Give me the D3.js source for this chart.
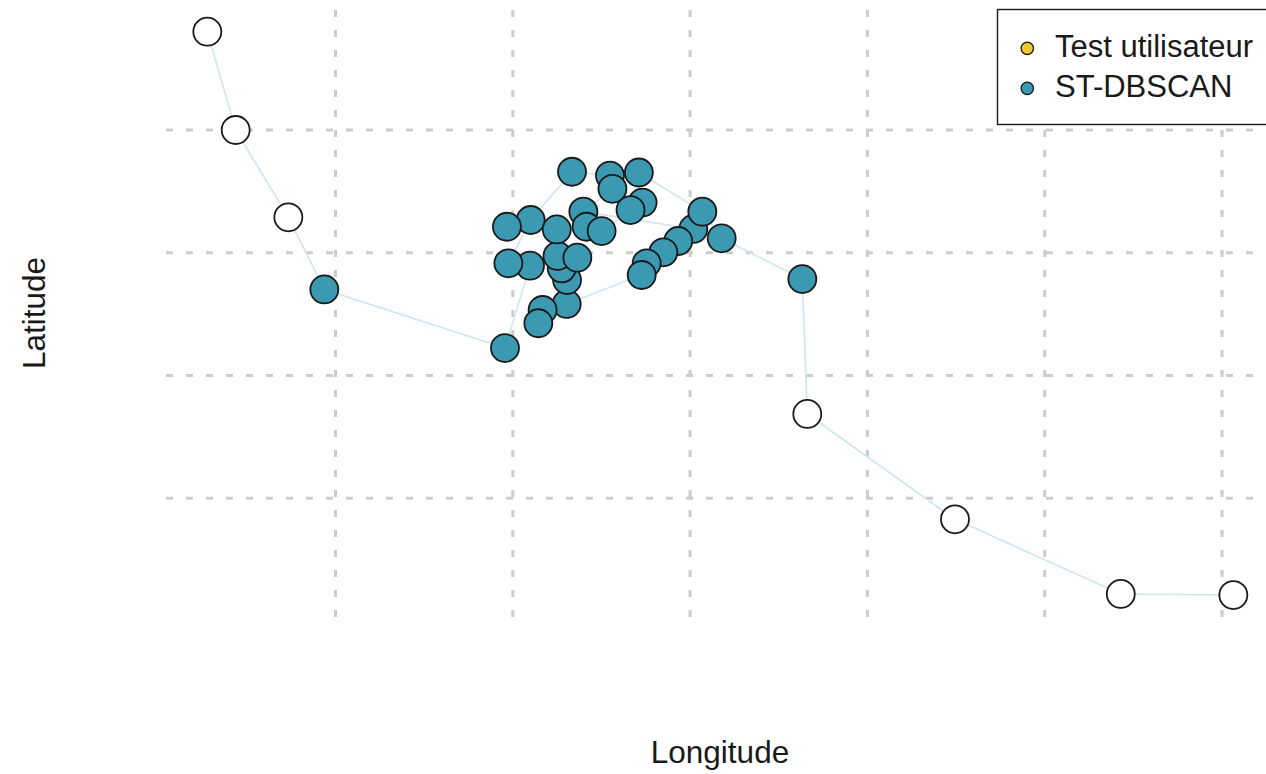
<!DOCTYPE html>
<html>
<head>
<meta charset="utf-8">
<script src="https://cdn.jsdelivr.net/npm/d3@7"></script>
<style>
  html, body { margin: 0; padding: 0; background: #ffffff; }
  svg { display: block; }
</style>
</head>
<body>
<svg id="chart" width="1266" height="774"></svg>
<script>
// ---- Data (trajectory in visiting order) ----
const longitudes = [
  2.350277, 2.350437, 2.350734, 2.350937, 2.351956, 2.352097, 2.351975, 2.352101,
  2.352334, 2.352548, 2.352562, 2.352398, 2.353018, 2.352933, 2.352849, 2.352755,
  2.352727, 2.352304, 2.352168, 2.352144, 2.352306, 2.352276, 2.352252, 2.352364,
  2.352248, 2.351967, 2.352416, 2.352501, 2.352732, 2.352664, 2.352711, 2.353069,
  2.353178, 2.353633, 2.353661, 2.354494, 2.355429, 2.356064
];
const latitudes = [
  48.860801, 48.860000, 48.859289, 48.858701, 48.858224, 48.858895, 48.858914, 48.859267,
  48.859660, 48.859629, 48.859521, 48.859335, 48.859194, 48.859096, 48.859004, 48.858914,
  48.858819, 48.858583, 48.858534, 48.858426, 48.858778, 48.858873, 48.858974, 48.858960,
  48.859190, 48.859212, 48.859212, 48.859177, 48.859409, 48.859348, 48.859654, 48.859335,
  48.859118, 48.858786, 48.857687, 48.856829, 48.856221, 48.856212
];
// 0 = hors cluster (bruit), 1 = cluster ST-DBSCAN
const clusters = [
  0, 0, 0, 1, 1, 1, 1, 1, 1, 1, 1, 1, 1, 1, 1, 1, 1, 1, 1, 1,
  1, 1, 1, 1, 1, 1, 1, 1, 1, 1, 1, 1, 1, 1, 0, 0, 0, 0
];
const lonGrid = [2.351, 2.352, 2.353, 2.354, 2.355, 2.356];
const latGrid = [48.857, 48.858, 48.859, 48.860];
const legendLabels = ["Test utilisateur", "ST-DBSCAN"];
const legendColors = ["#EBCC2A", "#3B9AB2"];
const xTitle = "Longitude";
const yTitle = "Latitude";

// ---- Layout ----
const panel = { left: 166, right: 1274, top: 10, bottom: 617 };
const svg = d3.select("#chart");
const fontFamily = "'Liberation Sans', Arial, sans-serif";

const x = d3.scaleLinear().domain([2.351, 2.356]).range([335.5, 1222]);
const y = d3.scaleLinear().domain([48.857, 48.860]).range([498.3, 130]);

const points = longitudes.map((lon, i) => ({ lon, lat: latitudes[i], c: clusters[i] }));

// ---- Grid ----
const grid = svg.append("g")
  .attr("stroke", "#cccccc")
  .attr("stroke-width", 3)
  .attr("stroke-dasharray", "7 13")
  .attr("fill", "none");

grid.selectAll("line.h").data(latGrid).join("line")
  .attr("class", "h")
  .attr("x1", panel.left).attr("x2", panel.right)
  .attr("y1", d => y(d)).attr("y2", d => y(d));

grid.selectAll("line.v").data(lonGrid).join("line")
  .attr("class", "v")
  .attr("x1", d => x(d)).attr("x2", d => x(d))
  .attr("y1", panel.top).attr("y2", panel.bottom);

// ---- Trajectory path ----
const line = d3.line().x(d => x(d.lon)).y(d => y(d.lat));
svg.append("path")
  .datum(points)
  .attr("d", line)
  .attr("fill", "none")
  .attr("stroke", "#cde6ef")
  .attr("stroke-width", 1.6);

// ---- Points ----
svg.append("g").selectAll("circle").data(points).join("circle")
  .attr("cx", d => x(d.lon))
  .attr("cy", d => y(d.lat))
  .attr("r", 14)
  .attr("fill", d => d.c === 1 ? legendColors[1] : "#ffffff")
  .attr("stroke", "#1a1a1a")
  .attr("stroke-width", 1.8);

// ---- Axis titles ----
svg.append("text")
  .attr("x", 720).attr("y", 763)
  .attr("text-anchor", "middle")
  .attr("font-family", fontFamily)
  .attr("font-size", 31.5)
  .attr("fill", "#1a1a1a")
  .text(xTitle);

svg.append("text")
  .attr("transform", "translate(45,313) rotate(-90)")
  .attr("text-anchor", "middle")
  .attr("font-family", fontFamily)
  .attr("font-size", 31.5)
  .attr("fill", "#1a1a1a")
  .text(yTitle);

// ---- Legend ----
const lg = svg.append("g");
lg.append("rect")
  .attr("x", 997.5).attr("y", 9.5)
  .attr("width", 300).attr("height", 115)
  .attr("fill", "#ffffff")
  .attr("stroke", "#1a1a1a")
  .attr("stroke-width", 1.4);

const items = lg.selectAll("g.item").data(legendLabels).join("g")
  .attr("class", "item")
  .attr("transform", (d, i) => `translate(0, ${48.3 + i * 40})`);
items.append("circle")
  .attr("cx", 1027.3).attr("cy", 0).attr("r", 6.2)
  .attr("fill", (d, i) => legendColors[i])
  .attr("stroke", "#1a1a1a")
  .attr("stroke-width", 1.3);
items.append("text")
  .attr("x", 1055).attr("y", 8.7)
  .attr("font-family", fontFamily)
  .attr("font-size", 31)
  .attr("fill", "#1a1a1a")
  .text(d => d);
</script>
</body>
</html>
